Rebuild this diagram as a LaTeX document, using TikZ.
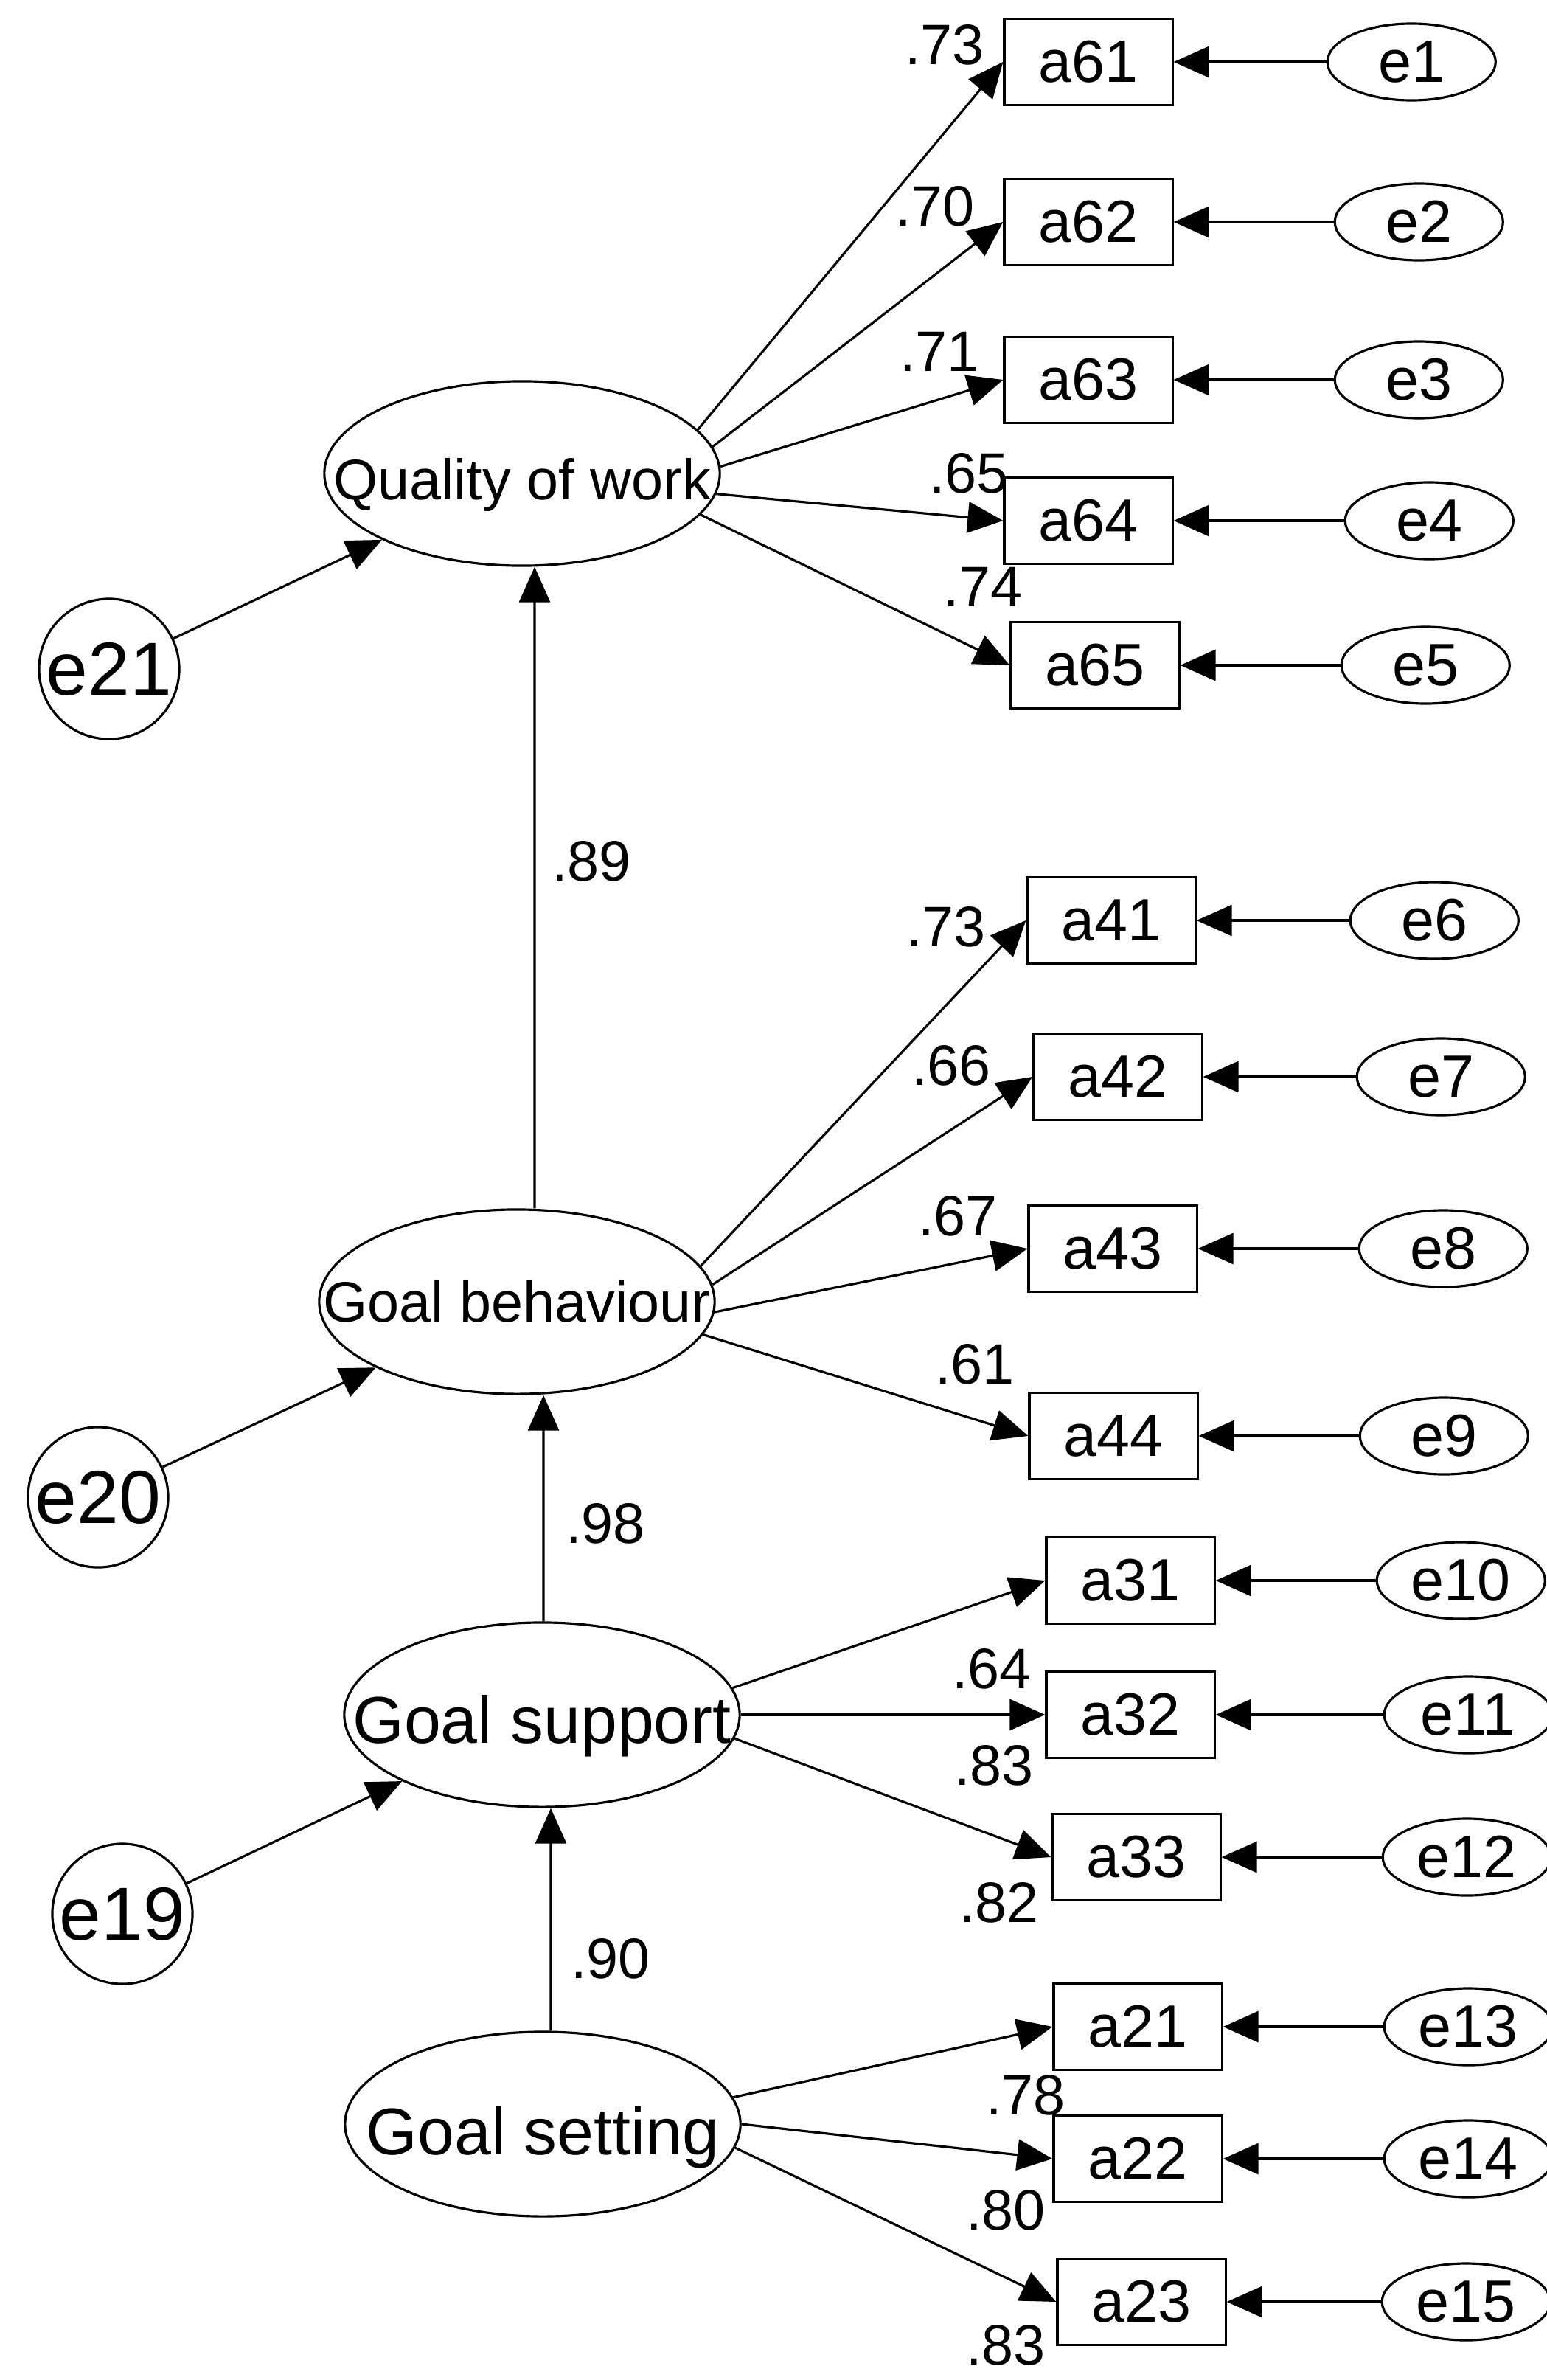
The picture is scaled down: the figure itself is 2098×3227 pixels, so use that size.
\documentclass[tikz,border=0pt]{standalone}
\usepackage{fontspec}
\setmainfont{Liberation Sans}
\usetikzlibrary{shapes,arrows.meta,positioning}
\newcommand\obsfont{\fontsize{23}{27}\selectfont}
\newcommand\coeffont{\fontsize{22}{26}\selectfont}
\newcommand\latfont{\fontsize{22}{26}\selectfont}
\newcommand\latbigfont{\fontsize{25.5}{30}\selectfont}
\newcommand\distfont{\fontsize{29}{34}\selectfont}
\tikzset{
  latent/.style={draw, ellipse, minimum width=5.36cm, minimum height=2.5cm, inner sep=0pt},
  obs/.style={draw, rectangle, minimum width=2.28cm, minimum height=1.17cm, inner sep=0pt, font=\obsfont},
  err/.style={draw, ellipse, minimum width=2.28cm, minimum height=1.04cm, inner sep=0pt, font=\obsfont},
  dist/.style={draw, circle, minimum size=1.9cm, inner sep=0pt},
  coef/.style={inner sep=0pt, font=\coeffont},
  arr/.style={-{Triangle[length=0.48cm,width=0.42cm]}}
}

\begin{document}
\begin{tikzpicture}[x=0.01cm, y=-0.01cm, line width=0.9pt, node distance=4.48cm]
    \fill[white] (0,0) rectangle (2098,3227);
    \useasboundingbox (0,0) rectangle (2098,3227);
    \node (QoW) [latent, label={[yshift=-0.15cm]center:{\latfont Quality of work}}] at (708,642) {};
    \node (GB) [latent, label=center:{\latfont Goal behaviour}] at (701,1765) {};
    \node (GSup) [latent, label={[yshift=-0.15cm]center:{\latbigfont Goal support}}] at (735,2325) {};
    \node (GSet) [latent, label={[yshift=-0.18cm]center:{\latbigfont Goal setting}}] at (736,2880) {};
    \node (e21) [dist, label=center:{\distfont e21}] at (148,907) {};
    \node (e20) [dist, label=center:{\distfont e20}] at (133,2030) {};
    \node (e19) [dist, label=center:{\distfont e19}] at (166,2595) {};
    \node (a61) [obs] at (1476,84) {a61};
    \node (a62) [obs] at (1476,301) {a62};
    \node (a63) [obs] at (1476,515) {a63};
    \node (a64) [obs] at (1476,706) {a64};
    \node (a65) [obs] at (1485,902) {a65};
    \node (a41) [obs] at (1507,1248) {a41};
    \node (a42) [obs] at (1516,1460) {a42};
    \node (a43) [obs] at (1509,1693) {a43};
    \node (a44) [obs] at (1510,1947) {a44};
    \node (a31) [obs] at (1533,2143) {a31};
    \node (a32) [obs] at (1533,2325) {a32};
    \node (a33) [obs] at (1541,2518) {a33};
    \node (a21) [obs] at (1543,2748) {a21};
    \node (a22) [obs] at (1543,2927) {a22};
    \node (a23) [obs] at (1548,3121) {a23};
    \node (e1) [err, right of=a61, xshift=-0.1cm] {e1};
    \node (e2) [err, right of=a62] {e2};
    \node (e3) [err, right of=a63] {e3};
    \node (e4) [err, right of=a64, xshift=0.14cm] {e4};
    \node (e5) [err, right of=a65] {e5};
    \node (e6) [err, right of=a41, xshift=-0.1cm] {e6};
    \node (e7) [err, right of=a42, xshift=-0.1cm] {e7};
    \node (e8) [err, right of=a43] {e8};
    \node (e9) [err, right of=a44] {e9};
    \node (e10) [err, right of=a31] {e10};
    \node (e11) [err, right of=a32, xshift=0.1cm] {e11};
    \node (e12) [err, right of=a33] {e12};
    \node (e13) [err, right of=a21] {e13};
    \node (e14) [err, right of=a22] {e14};
    \node (e15) [err, right of=a23, xshift=-0.08cm] {e15};
    \node (c61) [coef] at (1281,61) {.73};
    \node (c62) [coef] at (1268,280) {.70};
    \node (c63) [coef] at (1274,477) {.71};
    \node (c64) [coef] at (1314,642) {.65};
    \node (c65) [coef] at (1333,796) {.74};
    \node (c41) [coef] at (1283,1257) {.73};
    \node (c42) [coef] at (1290,1445) {.66};
    \node (c43) [coef] at (1299,1649) {.67};
    \node (c44) [coef] at (1322,1850) {.61};
    \node (c31) [coef] at (1345,2263) {.64};
    \node (c32) [coef] at (1348,2394) {.83};
    \node (c33) [coef] at (1355,2580) {.82};
    \node (c21) [coef] at (1391,2841) {.78};
    \node (c22) [coef] at (1364,2997) {.80};
    \node (c23) [coef] at (1364,3180) {.83};
    \node (cq) [coef] at (802,1168) {.89};
    \node (cb) [coef] at (821,2066) {.98};
    \node (cs) [coef] at (828,2656) {.90};
    \draw[arr] (e21) -- (QoW);
    \draw[arr] (e20) -- (GB);
    \draw[arr] (e19) -- (GSup);
    \draw[arr] ([xshift=0.24cm]GB.north) -- ([xshift=0.17cm]QoW.south);
    \draw[arr] ([xshift=0.02cm]GSup.north) -- ([xshift=0.36cm]GB.south);
    \draw[arr] ([xshift=0.11cm]GSet.north) -- ([xshift=0.12cm]GSup.south);
    \draw[arr] (QoW.14) -- (a61.west);
    \draw[arr] (QoW.8) -- (a62.west);
    \draw[arr] (QoW.2) -- (a63.west);
    \draw[arr] (QoW.-6) -- (a64.west);
    \draw[arr] (QoW.-13) -- (a65.west);
    \draw[arr] (GB.11) -- (a41.west);
    \draw[arr] (GB.5) -- (a42.west);
    \draw[arr] (GB.-3) -- (a43.west);
    \draw[arr] (GB.-10) -- (a44.west);
    \draw[arr] (GSup.8) -- (a31.west);
    \draw[arr] (GSup.east) -- (a32.west);
    \draw[arr] (GSup.-7) -- (a33.west);
    \draw[arr] (GSet.8) -- (a21.west);
    \draw[arr] (GSet.east) -- (a22.west);
    \draw[arr] (GSet.-7) -- (a23.west);
    \draw[arr] (e1) -- (a61);
    \draw[arr] (e2) -- (a62);
    \draw[arr] (e3) -- (a63);
    \draw[arr] (e4) -- (a64);
    \draw[arr] (e5) -- (a65);
    \draw[arr] (e6) -- (a41);
    \draw[arr] (e7) -- (a42);
    \draw[arr] (e8) -- (a43);
    \draw[arr] (e9) -- (a44);
    \draw[arr] (e10) -- (a31);
    \draw[arr] (e11) -- (a32);
    \draw[arr] (e12) -- (a33);
    \draw[arr] (e13) -- (a21);
    \draw[arr] (e14) -- (a22);
    \draw[arr] (e15) -- (a23);
\end{tikzpicture}
\end{document}
